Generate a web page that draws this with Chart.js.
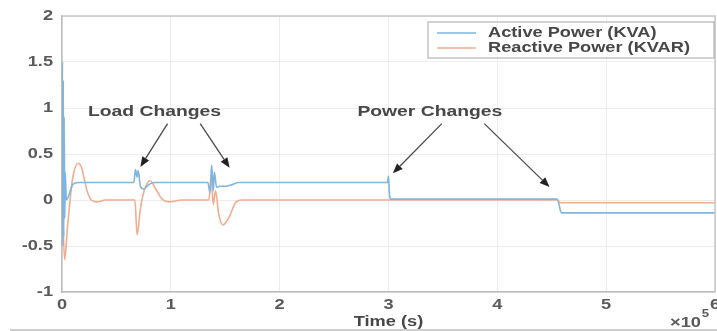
<!DOCTYPE html>
<html><head><meta charset="utf-8">
<script src="https://cdn.jsdelivr.net/npm/chart.js@4/dist/chart.umd.min.js"></script>
<style>html,body{margin:0;padding:0;background:#fff;overflow:hidden}#wrap{width:717px;height:331px;position:relative}</style>
</head><body><div id="wrap"><canvas id="c" width="717" height="331"></canvas></div>
<script>
// ---- data (x in units of 10^5) ----
const xTicks = [0, 1, 2, 3, 4, 5, 6];
const xTickLabels = ['0', '1', '2', '3', '4', '5', '6'];
const yTicks = [-1, -0.5, 0, 0.5, 1, 1.5, 2];
const yTickLabels = ['-1', '-0.5', '0', '0.5', '1', '1.5', '2'];
const seriesNames = ['Active Power (KVA)', 'Reactive Power (KVAR)'];
const xAxisTitle = 'Time (s)';
const xExponent = '5';

const activeT = [0, 0.004, 0.008, 0.012, 0.016, 0.02, 0.025, 0.03, 0.04, 0.1, 0.15, 0.66, 0.675, 0.69, 0.70, 0.72, 0.75, 0.80, 0.85, 1.34, 1.36, 1.375, 1.39, 1.40, 1.42, 1.45, 1.50, 1.57, 1.62, 2.99, 3.0, 3.01, 3.02, 4.55, 4.59, 6.0];
const activeV = [0, 1.5, -0.5, 1.3, -0.4, 0.9, -0.2, 0.3, 0.0, 0.17, 0.19, 0.19, 0.33, 0.25, 0.32, 0.15, 0.12, 0.17, 0.19, 0.19, 0.08, 0.38, 0.10, 0.30, 0.14, 0.15, 0.15, 0.17, 0.19, 0.19, 0.26, 0.05, 0.01, 0.01, -0.14, -0.14];

const reactiveT = [0, 0.01, 0.025, 0.05, 0.10, 0.15, 0.18, 0.23, 0.27, 0.32, 0.40, 0.67, 0.69, 0.72, 0.76, 0.81, 0.86, 0.92, 0.98, 1.10, 1.35, 1.37, 1.39, 1.41, 1.44, 1.48, 1.53, 1.60, 1.65, 4.55, 4.58, 6.0];
const reactiveV = [0, -0.3, -0.65, -0.3, 0.25, 0.40, 0.35, 0.10, 0.0, -0.02, 0.0, 0.0, -0.38, -0.10, 0.12, 0.21, 0.12, 0.01, -0.02, 0.0, 0.0, 0.25, -0.05, 0.10, -0.15, -0.27, -0.20, -0.02, 0.0, 0.0, -0.03, -0.03];

// annotations (data coordinates)
const noteLabels = ['Load Changes', 'Power Changes'];
const noteX = [0.85, 3.38];
const noteY = [0.95, 0.95];
const arrowFromX = [0.97, 1.27, 3.49, 3.88];
const arrowFromY = [0.83, 0.83, 0.83, 0.83];
const arrowToX = [0.72, 1.54, 3.04, 4.48];
const arrowToY = [0.36, 0.35, 0.29, 0.14];

const COLORS = ['#7fb6e0', '#f0ad90'];
const TEXT = '#474747';
const STRETCH = 1.38;
const FONT = 'bold 14px "Liberation Sans", Arial';

function stretchedText(ctx, txt, x, y, align, sx, font, color) {
  ctx.save();
  ctx.font = font;
  ctx.fillStyle = color;
  ctx.textBaseline = 'middle';
  const w = ctx.measureText(txt).width * sx;
  let left = x;
  if (align === 'center') left = x - w / 2;
  else if (align === 'right') left = x - w;
  ctx.translate(left, y);
  ctx.scale(sx, 1);
  ctx.textAlign = 'left';
  ctx.fillText(txt, 0, 0);
  ctx.restore();
  return w;
}

const decor = {
  id: 'decor',
  afterDatasetsDraw(chart) {
    const ctx = chart.ctx, xs = chart.scales.x, ys = chart.scales.y, a = chart.chartArea;
    ctx.save();
    ctx.strokeStyle = '#c6c6c6';
    ctx.lineWidth = 1.5;
    ctx.beginPath();
    ctx.moveTo(a.left, a.top); ctx.lineTo(a.right, a.top); ctx.lineTo(a.right, a.bottom);
    ctx.stroke();
    ctx.restore();
    noteLabels.forEach((t, i) => {
      stretchedText(ctx, t, xs.getPixelForValue(noteX[i]), ys.getPixelForValue(noteY[i]), 'center', STRETCH, FONT, TEXT);
    });
    arrowFromX.forEach((fx, i) => {
      const x1 = xs.getPixelForValue(fx), y1 = ys.getPixelForValue(arrowFromY[i]);
      const x2 = xs.getPixelForValue(arrowToX[i]), y2 = ys.getPixelForValue(arrowToY[i]);
      const ang = Math.atan2(y2 - y1, x2 - x1);
      const L = 10, W = 4;
      ctx.save();
      ctx.strokeStyle = '#4a4a4a';
      ctx.fillStyle = '#222';
      ctx.lineWidth = 1.3;
      ctx.beginPath();
      ctx.moveTo(x1, y1);
      ctx.lineTo(x2 - Math.cos(ang) * L, y2 - Math.sin(ang) * L);
      ctx.stroke();
      ctx.beginPath();
      ctx.moveTo(x2, y2);
      ctx.lineTo(x2 - Math.cos(ang) * L - Math.sin(ang) * W, y2 - Math.sin(ang) * L + Math.cos(ang) * W);
      ctx.lineTo(x2 - Math.cos(ang) * L + Math.sin(ang) * W, y2 - Math.sin(ang) * L - Math.cos(ang) * W);
      ctx.closePath();
      ctx.fill();
      ctx.restore();
    });
    const lw = 286, lh = 36;
    const lx = a.right - lw - 1, ly = a.top + 6;
    ctx.save();
    ctx.fillStyle = '#fff';
    ctx.fillRect(lx, ly, lw, lh);
    ctx.strokeStyle = '#b5b5b5';
    ctx.lineWidth = 1.2;
    ctx.strokeRect(lx, ly, lw, lh);
    seriesNames.forEach((n, i) => {
      const yy = ly + 11 + i * 15;
      ctx.strokeStyle = COLORS[i];
      ctx.lineWidth = 1.5;
      ctx.beginPath(); ctx.moveTo(lx + 9, yy); ctx.lineTo(lx + 48, yy); ctx.stroke();
      stretchedText(ctx, n, lx + 60, yy, 'left', 1.3, FONT, TEXT);
    });
    ctx.restore();
  },
  afterDraw(chart) {
    const ctx = chart.ctx, xs = chart.scales.x, ys = chart.scales.y, a = chart.chartArea;
    const tc = '#5a5a5a';
    yTicks.forEach((v, i) => {
      stretchedText(ctx, yTickLabels[i], a.left - 9, ys.getPixelForValue(v), 'right', 1.3, FONT, tc);
    });
    xTicks.forEach((v, i) => {
      stretchedText(ctx, xTickLabels[i], xs.getPixelForValue(v), a.bottom + 13, 'center', 1.3, FONT, tc);
    });
    stretchedText(ctx, xAxisTitle, xs.getPixelForValue(3), a.bottom + 30, 'center', 1.3, FONT, TEXT);
    const w = stretchedText(ctx, '\u00d710', 670, a.bottom + 31, 'left', 1.3, FONT, tc);
    stretchedText(ctx, xExponent, 670 + w + 1, a.bottom + 22, 'left', 1.2, 'bold 11px "Liberation Sans", Arial', tc);
    ctx.save();
    ctx.strokeStyle = '#bdbdbd';
    ctx.lineWidth = 1.5;
    ctx.beginPath(); ctx.moveTo(10, 330); ctx.lineTo(717, 330); ctx.stroke();
    ctx.restore();
  }
};

new Chart(document.getElementById('c'), {
  type: 'line',
  data: {
    datasets: [
      { label: seriesNames[0], data: activeT.map((t, i) => ({ x: t, y: activeV[i] })), borderColor: COLORS[0], borderWidth: 1.6, pointRadius: 0, cubicInterpolationMode: 'monotone', fill: false },
      { label: seriesNames[1], data: reactiveT.map((t, i) => ({ x: t, y: reactiveV[i] })), borderColor: COLORS[1], borderWidth: 1.6, pointRadius: 0, cubicInterpolationMode: 'monotone', fill: false }
    ]
  },
  options: {
    responsive: false,
    animation: false,
    events: [],
    layout: { autoPadding: false, padding: { top: 16, right: 2, left: 0, bottom: 0 } },
    plugins: { legend: { display: false }, tooltip: { enabled: false } },
    scales: {
      x: {
        type: 'linear', min: 0, max: 6,
        ticks: { display: false, stepSize: 1 },
        grid: { color: '#ececec', drawTicks: false },
        border: { display: true, color: '#bcbcbc', width: 1.5 },
        afterFit(s) { s.height = 39; }
      },
      y: {
        min: -1, max: 2,
        ticks: { display: false, stepSize: 0.5 },
        grid: { color: '#ececec', drawTicks: false },
        border: { display: true, color: '#bcbcbc', width: 1.5 },
        afterFit(s) { s.width = 62; }
      }
    }
  },
  plugins: [decor]
});
</script>
</body></html>
